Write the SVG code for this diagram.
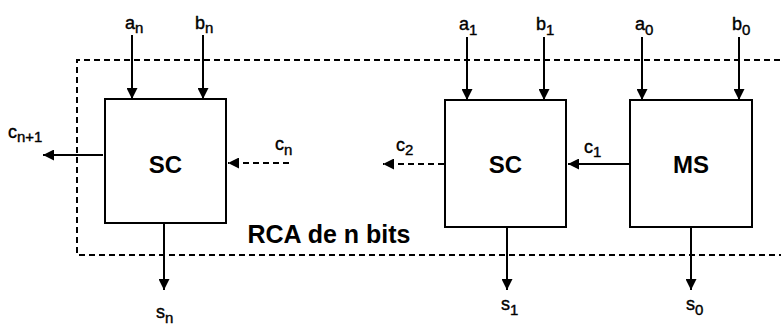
<svg xmlns="http://www.w3.org/2000/svg" width="781" height="325" viewBox="0 0 781 325">
<defs>
<marker id="ah" markerUnits="userSpaceOnUse" markerWidth="11" markerHeight="11" refX="10" refY="5" orient="auto" viewBox="0 0 10 10">
<path d="M0,0 L10,5 L0,10 z" fill="#000"/>
</marker>
<style>
.box{fill:#fff;stroke:#000;stroke-width:2}
.w{stroke:#000;stroke-width:2;fill:none;marker-end:url(#ah)}
.d{stroke-dasharray:6 4}
.lbl{font-family:"Liberation Sans",Arial,sans-serif;font-size:18px;fill:#000;stroke:#000;stroke-width:0.4}
.sub{font-size:15px}
.big{font-family:"Liberation Sans",Arial,sans-serif;font-weight:bold;font-size:24px;fill:#000;text-anchor:middle}
</style>
</defs>
<rect width="781" height="325" fill="#fff"/>
<path id="frame" d="M790,60 H77 V255 H790" fill="none" stroke="#000" stroke-width="2" stroke-dasharray="6 4"/>
<text class="big" x="329" y="243" style="font-size:25px">RCA de n bits</text>

<g id="connectors">
<line class="w" x1="132" y1="35" x2="132" y2="99"/>
<line class="w" x1="203" y1="35" x2="203" y2="99"/>
<line class="w" x1="467" y1="37" x2="467" y2="100"/>
<line class="w" x1="544" y1="37" x2="544" y2="100"/>
<line class="w" x1="642" y1="37" x2="642" y2="100"/>
<line class="w" x1="739" y1="37" x2="739" y2="100"/>
<line class="w" x1="164" y1="223" x2="164" y2="290"/>
<line class="w" x1="507" y1="227" x2="507" y2="290"/>
<line class="w" x1="691" y1="227" x2="691" y2="290"/>
<line class="w" x1="103" y1="155" x2="43" y2="155"/>
<line class="w d" x1="289" y1="163" x2="228" y2="163"/>
<line class="w d" x1="444" y1="164" x2="383" y2="164"/>
<line class="w" x1="630" y1="164" x2="568" y2="164"/>
</g>

<g id="sc_n">
<rect class="box" x="105" y="99" width="121" height="124"/>
<text class="big" x="165.5" y="173">SC</text>
</g>
<g id="sc_1">
<rect class="box" x="445" y="100" width="121" height="127"/>
<text class="big" x="505.5" y="173">SC</text>
</g>
<g id="ms">
<rect class="box" x="630" y="100" width="122" height="127"/>
<text class="big" x="691" y="173">MS</text>
</g>

<g id="labels" class="lbl">
<text x="125" y="29">a<tspan class="sub" dy="4">n</tspan></text>
<text x="195" y="29">b<tspan class="sub" dy="4">n</tspan></text>
<text x="459" y="30">a<tspan class="sub" dy="5">1</tspan></text>
<text x="536" y="30">b<tspan class="sub" dy="5">1</tspan></text>
<text x="635" y="30">a<tspan class="sub" dy="5">0</tspan></text>
<text x="732" y="30">b<tspan class="sub" dy="5">0</tspan></text>
<text x="8" y="138">c<tspan class="sub" dy="4">n+1</tspan></text>
<text x="275" y="150">c<tspan class="sub" dy="5">n</tspan></text>
<text x="396" y="151">c<tspan class="sub" dy="4">2</tspan></text>
<text x="584" y="153">c<tspan class="sub" dy="4">1</tspan></text>
<text x="156" y="318">s<tspan class="sub" dy="5">n</tspan></text>
<text x="501" y="310">s<tspan class="sub" dy="5">1</tspan></text>
<text x="686" y="310">s<tspan class="sub" dy="5">0</tspan></text>
</g>
</svg>
